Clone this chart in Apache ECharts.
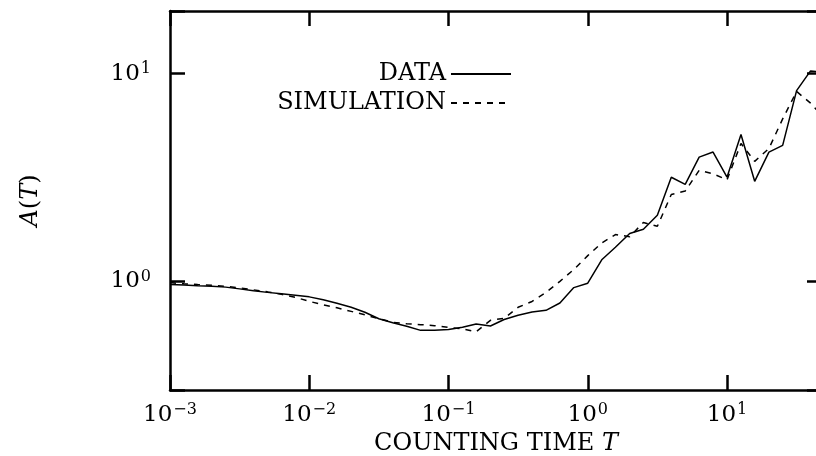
<!DOCTYPE html>
<html>
<head>
<meta charset="utf-8">
<script src="https://cdn.jsdelivr.net/npm/echarts@6.0.0/dist/echarts.min.js"></script>
<style>
  html, body { margin: 0; padding: 0; background: #fff; }
  #chart { width: 816px; height: 456px; }
</style>
</head>
<body>
<div id="chart"></div>
<script>
// counting time T, one point every 0.1 decade
const countingTime = [
  0.001, 0.00126, 0.00158, 0.002, 0.00251, 0.00316, 0.00398, 0.00501, 0.00631, 0.00794,
  0.01, 0.0126, 0.0158, 0.02, 0.0251, 0.0316, 0.0398, 0.0501, 0.0631, 0.0794,
  0.1, 0.126, 0.158, 0.2, 0.251, 0.316, 0.398, 0.501, 0.631, 0.794,
  1, 1.26, 1.58, 2, 2.51, 3.16, 3.98, 5.01, 6.31, 7.94,
  10, 12.6, 15.8, 20, 25.1, 31.6, 39.8, 50.1
];
const dataValues = [
  0.967, 0.960, 0.953, 0.946, 0.938, 0.920, 0.900, 0.885, 0.871, 0.857,
  0.842, 0.815, 0.784, 0.750, 0.710, 0.661, 0.632, 0.608, 0.581, 0.581,
  0.586, 0.601, 0.623, 0.610, 0.655, 0.687, 0.712, 0.725, 0.787, 0.933,
  0.98, 1.27, 1.46, 1.70, 1.78, 2.08, 3.17, 2.93, 3.96, 4.19,
  3.17, 5.09, 3.03, 4.19, 4.51, 8.28, 10.3, 10.1
];
const simulationValues = [
  0.986, 0.973, 0.965, 0.957, 0.946, 0.931, 0.910, 0.890, 0.866, 0.838,
  0.801, 0.771, 0.746, 0.717, 0.690, 0.661, 0.635, 0.625, 0.619, 0.612,
  0.600, 0.591, 0.572, 0.649, 0.664, 0.750, 0.800, 0.885, 1.00, 1.14,
  1.33, 1.53, 1.68, 1.64, 1.92, 1.84, 2.62, 2.72, 3.42, 3.29,
  3.08, 4.61, 3.78, 4.36, 6.05, 8.2, 7.2, 6.1
];

const font = 'DejaVu Serif';
const chart = echarts.init(document.getElementById('chart'));

function pair(values) {
  return countingTime.map((t, i) => [t, values[i]]);
}

// only label exact decades, as 10^n
function powerLabel(value) {
  const e = Math.log10(value);
  const n = Math.round(e);
  if (Math.abs(e - n) > 1e-6) return '';
  return '{b|10}{s|' + (n < 0 ? '\u2212' + (-n) : n) + '}';
}

const labelRich = {
  b: { fontFamily: font, fontSize: 23, color: '#000' },
  s: { fontFamily: font, fontSize: 16, color: '#000', verticalAlign: 'top', padding: [0, 0, 10, 1] }
};
const nameRich = {
  r: { fontFamily: font, fontSize: 24, color: '#000' },
  i: { fontFamily: font, fontSize: 24, color: '#000', fontStyle: 'italic' }
};

const frame = { show: true, onZero: false, lineStyle: { color: '#000', width: 2.5 } };
const inTick = { show: true, inside: true, length: 15, lineStyle: { color: '#000', width: 2.5 } };
const legendText = { fontFamily: font, fontSize: 24, color: '#000' };

const options = {
  animation: false,
  backgroundColor: '#fff',
  grid: { left: 170, top: 11, width: 652, height: 379, outerBoundsMode: 'none', containLabel: false },
  legend: [
    {
      data: ['DATA'], align: 'right', right: 304, top: 62, padding: 0,
      itemWidth: 60, itemHeight: 24, itemGap: 0,
      itemStyle: { opacity: 0 },
      textStyle: legendText
    },
    {
      data: ['SIMULATION'], align: 'right', right: 304, top: 91, padding: 0,
      itemWidth: 60, itemHeight: 24, itemGap: 0,
      itemStyle: { opacity: 0 },
      textStyle: legendText
    }
  ],
  xAxis: [
    {
      type: 'log', min: 0.001, max: 48.1,
      name: '{r|COUNTING TIME }{i|T}', nameLocation: 'middle', nameGap: 42,
      nameTextStyle: { rich: nameRich },
      axisLine: frame, axisTick: inTick, splitLine: { show: false },
      axisLabel: { margin: 12, formatter: powerLabel, rich: labelRich }
    },
    {
      type: 'log', min: 0.001, max: 48.1, position: 'top',
      axisLine: frame, axisTick: inTick, splitLine: { show: false },
      axisLabel: { show: false }
    }
  ],
  yAxis: [
    {
      type: 'log', min: 0.3, max: 20,
      name: '{i|A}{r|(}{i|T}{r|)}', nameLocation: 'middle', nameGap: 127, nameRotate: 90,
      nameTextStyle: { rich: nameRich },
      axisLine: frame, axisTick: inTick, splitLine: { show: false },
      axisLabel: { margin: 19, formatter: powerLabel, rich: labelRich }
    },
    {
      type: 'log', min: 0.3, max: 20, position: 'right',
      axisLine: frame, axisTick: inTick, splitLine: { show: false },
      axisLabel: { show: false }
    }
  ],
  series: [
    {
      name: 'DATA', type: 'line', data: pair(dataValues),
      symbol: 'none', clip: true,
      lineStyle: { color: '#000', width: 1.5 },
      itemStyle: { color: '#000' }
    },
    {
      name: 'SIMULATION', type: 'line', data: pair(simulationValues),
      symbol: 'none', clip: true,
      lineStyle: { color: '#000', width: 1.5, type: [6, 6] },
      itemStyle: { color: '#000' }
    }
  ]
};

chart.setOption(options);
</script>
</body>
</html>
